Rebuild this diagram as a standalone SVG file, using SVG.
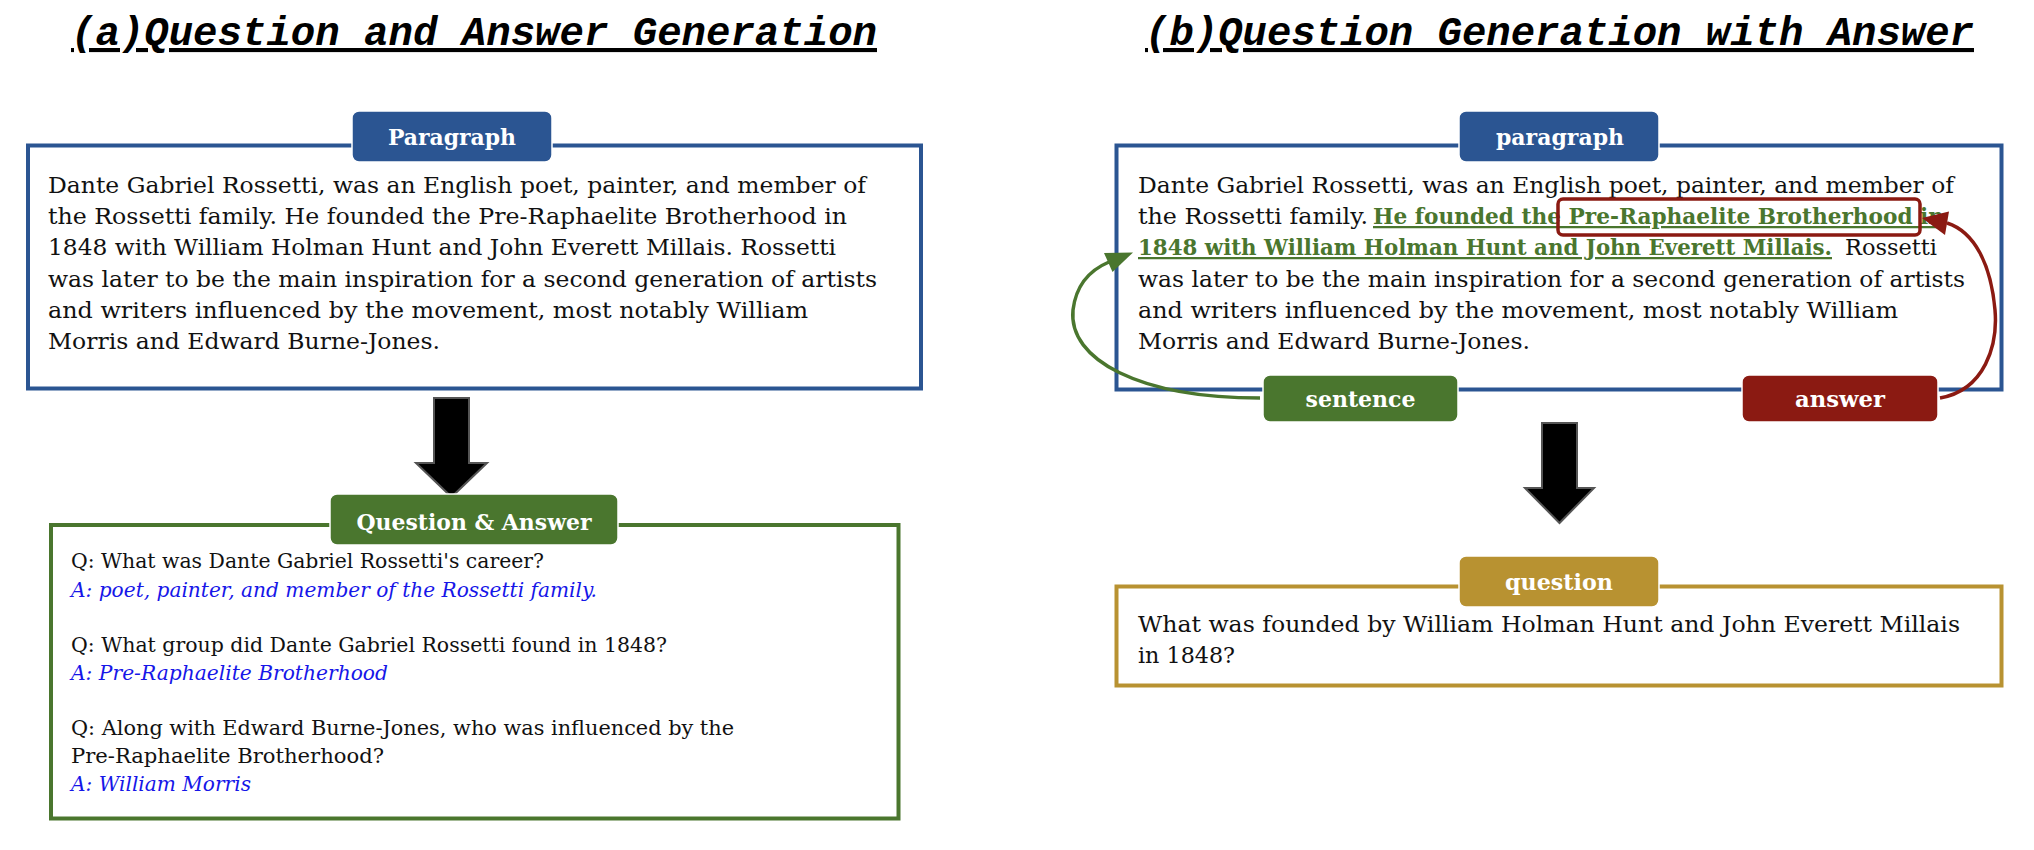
<svg xmlns="http://www.w3.org/2000/svg" width="2034" height="850" viewBox="0 0 2034 850">
<style>
.title{font-family:"Liberation Mono","Courier New",monospace;font-weight:bold;font-style:italic;font-size:41px;fill:#000;text-decoration:underline;}
.body{font-family:"DejaVu Serif","Liberation Serif",serif;font-size:22.5px;fill:#111;}
.qa{font-family:"DejaVu Serif","Liberation Serif",serif;font-size:20px;fill:#111;}
.ans{font-family:"DejaVu Serif","Liberation Serif",serif;font-size:20px;fill:#1616e8;font-style:italic;}
.hl{font-family:"DejaVu Serif","Liberation Serif",serif;font-size:22.5px;font-weight:bold;fill:#4a762e;text-decoration:underline;}
.lbl{font-family:"DejaVu Serif","Liberation Serif",serif;font-size:22px;font-weight:bold;fill:#fff;text-anchor:middle;}
.box{fill:#fff;stroke-width:4;}
.big{fill:#000;stroke:#555;stroke-width:2;stroke-linejoin:miter;}
</style>

<text class="title" x="71" y="45" textLength="806" lengthAdjust="spacingAndGlyphs">(a)Question and Answer Generation</text>
<text class="title" x="1145" y="45" textLength="829" lengthAdjust="spacingAndGlyphs">(b)Question Generation with Answer</text>

<g id="paragraph-a">
<rect class="box" x="28" y="145.5" width="893" height="243" stroke="#2b5592"/>
<rect x="352" y="111" width="200" height="51" rx="7" fill="#2b5592" stroke="#fff" stroke-width="1.5"/>
<text class="lbl" x="452" y="145" textLength="128" lengthAdjust="spacingAndGlyphs">Paragraph</text>
<text class="body" x="48" y="193" textLength="818" lengthAdjust="spacingAndGlyphs">Dante Gabriel Rossetti, was an English poet, painter, and member of</text>
<text class="body" x="48" y="224" textLength="799" lengthAdjust="spacingAndGlyphs">the Rossetti family. He founded the Pre-Raphaelite Brotherhood in</text>
<text class="body" x="48" y="255" textLength="788" lengthAdjust="spacingAndGlyphs">1848 with William Holman Hunt and John Everett Millais. Rossetti</text>
<text class="body" x="48" y="287" textLength="829" lengthAdjust="spacingAndGlyphs">was later to be the main inspiration for a second generation of artists</text>
<text class="body" x="48" y="318" textLength="760" lengthAdjust="spacingAndGlyphs">and writers influenced by the movement, most notably William</text>
<text class="body" x="48" y="349" textLength="392" lengthAdjust="spacingAndGlyphs">Morris and Edward Burne-Jones.</text>
</g>

<g id="arrow-a">
<polygon class="big" points="434,398 469,398 469,463 487,463 451.5,497 416,463 434,463"/>
</g>

<g id="qa-a">
<rect class="box" x="51" y="525" width="847.5" height="293.5" stroke="#4a762e"/>
<rect x="330" y="494" width="288" height="51" rx="7" fill="#4a762e" stroke="#fff" stroke-width="1.5"/>
<text class="lbl" x="474" y="530" textLength="235" lengthAdjust="spacingAndGlyphs">Question &amp; Answer</text>
<text class="qa" x="71" y="568" textLength="473" lengthAdjust="spacingAndGlyphs">Q: What was Dante Gabriel Rossetti's career?</text>
<text class="ans" x="71" y="597" textLength="526" lengthAdjust="spacingAndGlyphs">A: poet, painter, and member of the Rossetti family.</text>
<text class="qa" x="71" y="652" textLength="596" lengthAdjust="spacingAndGlyphs">Q: What group did Dante Gabriel Rossetti found in 1848?</text>
<text class="ans" x="71" y="680" textLength="317" lengthAdjust="spacingAndGlyphs">A: Pre-Raphaelite Brotherhood</text>
<text class="qa" x="71" y="735" textLength="663" lengthAdjust="spacingAndGlyphs">Q: Along with Edward Burne-Jones, who was influenced by the</text>
<text class="qa" x="71" y="763" textLength="313" lengthAdjust="spacingAndGlyphs">Pre-Raphaelite Brotherhood?</text>
<text class="ans" x="71" y="791" textLength="180" lengthAdjust="spacingAndGlyphs">A: William Morris</text>
</g>

<g id="paragraph-b">
<rect class="box" x="1116.5" y="145.5" width="885" height="244" stroke="#2b5592"/>
<rect x="1459" y="111" width="200" height="51" rx="7" fill="#2b5592" stroke="#fff" stroke-width="1.5"/>
<text class="lbl" x="1560" y="145" textLength="128" lengthAdjust="spacingAndGlyphs">paragraph</text>
<text class="body" x="1138" y="193" textLength="816" lengthAdjust="spacingAndGlyphs">Dante Gabriel Rossetti, was an English poet, painter, and member of</text>
<text class="body" x="1138" y="224" textLength="230" lengthAdjust="spacingAndGlyphs">the Rossetti family.</text>
<text class="hl" x="1373" y="224" textLength="571" lengthAdjust="spacingAndGlyphs">He founded the Pre-Raphaelite Brotherhood in</text>
<text class="hl" x="1138" y="255" textLength="694" lengthAdjust="spacingAndGlyphs">1848 with William Holman Hunt and John Everett Millais.</text>
<text class="body" x="1845" y="255" textLength="92" lengthAdjust="spacingAndGlyphs">Rossetti</text>
<text class="body" x="1138" y="287" textLength="827" lengthAdjust="spacingAndGlyphs">was later to be the main inspiration for a second generation of artists</text>
<text class="body" x="1138" y="318" textLength="760" lengthAdjust="spacingAndGlyphs">and writers influenced by the movement, most notably William</text>
<text class="body" x="1138" y="349" textLength="392" lengthAdjust="spacingAndGlyphs">Morris and Edward Burne-Jones.</text>
<rect id="answer-span" x="1558" y="199" width="362" height="36" rx="5" fill="none" stroke="#8b1a12" stroke-width="3.5"/>
</g>

<g id="sentence">
<rect x="1263" y="375" width="195" height="47" rx="7" fill="#4a762e" stroke="#fff" stroke-width="1.5"/>
<text class="lbl" x="1360.5" y="407" textLength="110" lengthAdjust="spacingAndGlyphs">sentence</text>
</g>

<g id="answer">
<rect x="1742" y="375" width="196" height="47" rx="7" fill="#8b1a12" stroke="#fff" stroke-width="1.5"/>
<text class="lbl" x="1840" y="407" textLength="90" lengthAdjust="spacingAndGlyphs">answer</text>
</g>

<g id="connectors">
<path d="M1260,398 C1140,398 1068,360 1073,310 C1076,285 1090,270 1109,262" fill="none" stroke="#4a762e" stroke-width="3.5"/>
<polygon points="1133,252.5 1104,253 1112.5,272" fill="#4a762e"/>
<path d="M1940,398 C1985,390 1998,345 1995,310 C1991,265 1975,232 1947,223" fill="none" stroke="#8b1a12" stroke-width="3.5"/>
<polygon points="1922,218 1949,211.5 1945,235" fill="#8b1a12"/>
</g>

<g id="arrow-b">
<polygon class="big" points="1542,423 1577,423 1577,488 1594,488 1559.5,523 1525,488 1542,488"/>
</g>

<g id="question-b">
<rect class="box" x="1116.5" y="586.5" width="885" height="99" stroke="#b89231"/>
<rect x="1459" y="556" width="200" height="51" rx="7" fill="#b89231" stroke="#fff" stroke-width="1.5"/>
<text class="lbl" x="1559" y="590" textLength="108" lengthAdjust="spacingAndGlyphs">question</text>
<text class="body" x="1138" y="632" textLength="822" lengthAdjust="spacingAndGlyphs">What was founded by William Holman Hunt and John Everett Millais</text>
<text class="body" x="1138" y="663" textLength="97" lengthAdjust="spacingAndGlyphs">in 1848?</text>
</g>
</svg>
